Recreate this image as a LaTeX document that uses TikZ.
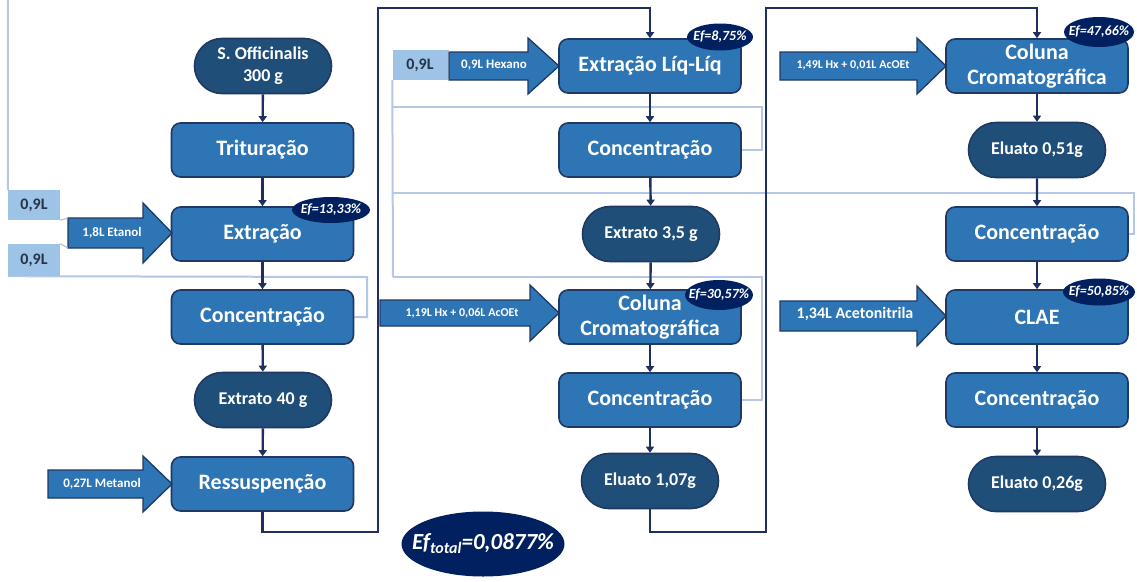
\documentclass[tikz,border=0pt]{standalone}
\usepackage{fontspec}
\setmainfont{Carlito}
\usetikzlibrary{shapes.geometric,shapes.misc,arrows.meta}
\pgfdeclarelayer{bg}
\pgfsetlayers{bg,main}
\definecolor{boxblue}{RGB}{46,117,182}
\definecolor{boxedge}{RGB}{31,56,100}
\definecolor{termblue}{RGB}{31,78,121}
\definecolor{navyef}{RGB}{0,32,96}
\definecolor{conn}{RGB}{31,48,94}
\definecolor{lightln}{RGB}{180,199,231}
\definecolor{lightbox}{RGB}{157,195,230}
\definecolor{lighttext}{RGB}{38,50,72}
\definecolor{stub}{RGB}{170,180,195}
\newcommand\myarrow[6]{%
  \draw[blockarr] (#1,{#4-#5}) -- (#2,{#4-#5}) -- (#2,{#4-#6}) -- (#3,#4)
    -- (#2,{#4+#6}) -- (#2,{#4+#5}) -- (#1,{#4+#5}) -- cycle;}
\tikzset{
  proc/.style={draw=boxedge, line width=1.6pt, fill=boxblue, rounded corners=9pt,
    minimum width=182pt, minimum height=54pt, text=white, align=center, inner sep=1pt,
    font=\bfseries\fontsize{22}{25}\selectfont},
  term/.style={draw=boxedge, line width=1.6pt, fill=termblue, rounded rectangle,
    minimum width=139pt, minimum height=55pt, text=white, align=center, inner sep=1pt,
    font=\bfseries\fontsize{18}{22}\selectfont},
  efl/.style={ellipse, fill=navyef, draw=none, inner sep=0pt},
  eftxt/.style={text=white, inner sep=0pt, font=\bfseries\itshape\fontsize{14}{14}\selectfont},
  blockarr/.style={fill=boxblue, draw=boxedge, line width=1.3pt, line join=miter},
  arrtxt/.style={text=white, inner sep=0pt, font=\bfseries\fontsize{13}{13}\selectfont},
  ninebox/.style={fill=lightbox, draw=none, minimum width=52pt, minimum height=30pt,
    inner sep=0pt, text=lighttext, font=\bfseries\fontsize{16}{16}\selectfont},
  lline/.style={draw=lightln, line width=2pt},
  sline/.style={draw=stub, line width=1pt},
  dconn/.style={draw=conn, line width=2.4pt, -{Triangle[length=6pt,width=8pt]}},
}
\begin{document}
\begin{tikzpicture}[x=1pt,y=-1pt]
\useasboundingbox (0,0) rectangle (1137,581);
\begin{pgfonlayer}{bg}
\fill[white] (0,0) rectangle (1137,581);
\end{pgfonlayer}

% ---------- boxes for recycled solvent ----------
\node[ninebox] (nine1) at (34,205) {0,9L};
\node[ninebox, minimum height=32pt] (nine2) at (34,260) {0,9L};
\node[ninebox, minimum width=55pt] (nine3) at (420,65) {0,9L};

% ---------- column 1 ----------
\node[term] (off) at (263,66) {S. Officinalis\\300 g};
\node[proc] (trit) at (262.5,150) {Trituração};
\node[proc] (extr) at (262.5,234) {Extração};
\node[proc] (conc1) at (262.5,317) {Concentração};
\node[term] (ext40) at (263,400) {Extrato 40 g};
\node[proc] (ress) at (262.5,484) {Ressuspenção};

% ---------- column 2 ----------
\node[proc] (ell) at (650,66) {Extração Líq-Líq};
\node[proc] (conc2) at (650,150) {Concentração};
\node[term] (ext35) at (651,234) {Extrato 3,5 g};
\node[proc] (col2) at (650,317) {Coluna\\Cromatográfica};
\node[proc] (conc2b) at (650,400) {Concentração};
\node[term] (el107) at (650,481) {Eluato 1,07g};

% ---------- column 3 ----------
\node[proc] (col3a) at (1037,66) {Coluna\\Cromatográfica};
\node[term] (el051) at (1037,150) {Eluato 0,51g};
\node[proc] (conc3) at (1037,234) {Concentração};
\node[proc] (clae) at (1037,317) {CLAE};
\node[proc] (conc3b) at (1037,400) {Concentração};
\node[term] (el026) at (1037,484) {Eluato 0,26g};

% ---------- block arrows ----------
\myarrow{68}{143}{172}{233}{15}{30}
\node[arrtxt] (aeta) at (112,233) {1,8L Etanol};
\myarrow{48}{143}{172}{484}{14}{28}
\node[arrtxt] (amet) at (102,484) {0,27L Metanol};
\myarrow{449}{528}{559}{66}{14}{28}
\node[arrtxt] (ahex) at (494,65) {0,9L Hexano};
\myarrow{380}{530}{559}{313}{13}{28}
\node[arrtxt, font=\bfseries\fontsize{12}{12}\selectfont] (ahx1) at (462,313) {1,19L Hx + 0,06L AcOEt};
\myarrow{780}{917}{946}{66}{14}{28}
\node[arrtxt, font=\bfseries\fontsize{12}{12}\selectfont] (ahx2) at (853,65) {1,49L Hx + 0,01L AcOEt};
\myarrow{780}{917}{946}{316}{15}{30}
\node[arrtxt, font=\bfseries\fontsize{16}{16}\selectfont] (aace) at (855,314) {1,34L Acetonitrila};

% ---------- light recycle lines ----------
\coordinate (ltop) at (8,0);
\coordinate (lc1) at (367,277);
\coordinate (lc2a) at (762,107);
\coordinate (lc2b) at (762,277);
\coordinate (lc3) at (1134,193);
\coordinate (lx2) at (393,107);
\coordinate (lx3) at (393,193);
\coordinate (lx4) at (393,277);
\begin{pgfonlayer}{bg}
\draw[lline] (ltop) -- (nine1.north west);
\draw[lline] (conc1.east) -| (lc1) -- (nine2.south west);
\draw[lline] (nine3.south west) -- (lx4);
\draw[lline] (lx2) -- (lc2a) |- (conc2.east);
\draw[lline] (lx3) -- (lc3) |- (conc3.east);
\draw[lline] (lx4) -- (lc2b) |- (conc2b.east);
\end{pgfonlayer}

% small stubs from 0,9L boxes to arrows
\draw[sline] (nine1.south east) -- (68,218);
\draw[sline] (nine2.north east) -- (68,248);
\draw[sline] (nine3.north east) -- (449,52);
\draw[sline] (nine3.south east) -- (449,80);

% ---------- dark connectors ----------
\coordinate (t1) at (378,8);
\coordinate (t2) at (766,8);
\begin{pgfonlayer}{bg}
\draw[dconn] (off) -- (trit);
\draw[dconn] (trit) -- (extr);
\draw[dconn] (extr) -- (conc1);
\draw[dconn] (conc1) -- (ext40);
\draw[dconn] (ext40) -- (ress);
\draw[dconn] (ress.south) |- (378,532) |- (ell.north |- t1) -- (ell.north);
\draw[dconn] (ell) -- (conc2);
\draw[dconn] (conc2) -- (ext35);
\draw[dconn] (ext35) -- (col2);
\draw[dconn] (col2) -- (conc2b);
\draw[dconn] (conc2b) -- (el107);
\draw[dconn] (el107.south) |- (766,532) |- (col3a.north |- t2) -- (col3a.north);
\draw[dconn] (col3a) -- (el051);
\draw[dconn] (el051) -- (conc3);
\draw[dconn] (conc3) -- (clae);
\draw[dconn] (clae) -- (conc3b);
\draw[dconn] (conc3b) -- (el026);
\end{pgfonlayer}

% ---------- efficiency ellipses ----------
\node[efl, minimum width=78pt, minimum height=26pt] (ef1) at (331,210) {};
\node[eftxt] at (ef1) {Ef=13,33\%};
\node[efl, minimum width=66pt, minimum height=27pt] (ef2) at (720,37) {};
\node[eftxt] at (ef2) {Ef=8,75\%};
\node[efl, minimum width=68pt, minimum height=30pt] (ef3) at (719,295) {};
\node[eftxt] at (ef3) {Ef=30,57\%};
\node[efl, minimum width=70pt, minimum height=30pt] (ef4) at (1099,32) {};
\node[eftxt] at (ef4) {Ef=47,66\%};
\node[efl, minimum width=72pt, minimum height=27pt] (ef5) at (1099,292) {};
\node[eftxt] at (ef5) {Ef=50,85\%};
\node[efl, minimum width=163pt, minimum height=65pt] (eft) at (483,544) {};
\node[text=white, inner sep=0pt, font=\bfseries\itshape\fontsize{23}{23}\selectfont]
  at (eft) {Ef\raisebox{-4pt}{\fontsize{16}{16}\selectfont total}=0,0877\%};
\end{tikzpicture}
\end{document}
